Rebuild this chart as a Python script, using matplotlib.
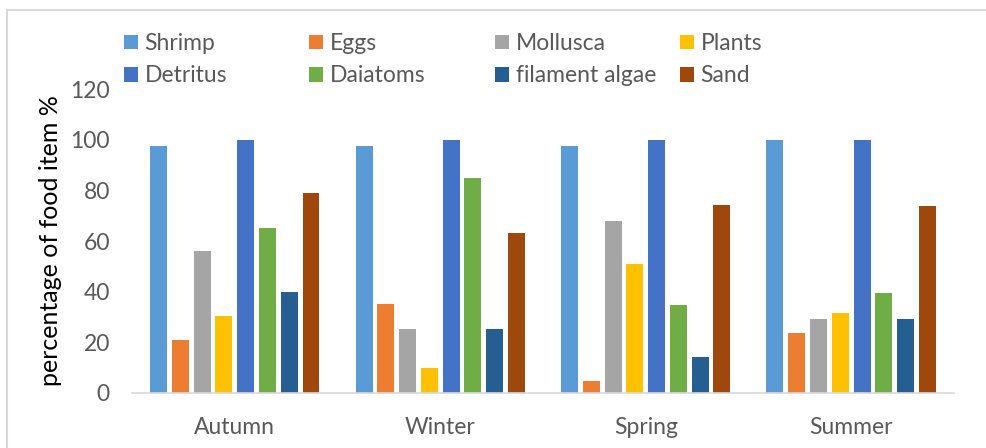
import matplotlib.pyplot as plt
import numpy as np
from matplotlib.patches import Rectangle

plt.rcParams['font.family'] = ['Lato', 'DejaVu Sans']

seasons = ["Autumn", "Winter", "Spring", "Summer"]
items = ["Shrimp", "Eggs", "Mollusca", "Plants",
         "Detritus", "Daiatoms", "filament algae", "Sand"]

shrimp = [97.6, 97.6, 97.6, 100]
eggs = [21, 35.3, 4.9, 23.7]
mollusca = [55.9, 25.3, 67.8, 29.2]
plants = [30.3, 9.9, 50.9, 31.6]
detritus = [100, 100, 100, 100]
diatoms = [65.1, 84.9, 34.9, 39.5]
filament_algae = [39.9, 25.3, 14.1, 29.2]
sand = [79, 63.2, 74.2, 73.7]

values = [shrimp, eggs, mollusca, plants, detritus, diatoms, filament_algae, sand]
colors = ["#5B9BD5", "#ED7D31", "#A5A5A5", "#FFC000",
          "#4472C4", "#70AD47", "#255E91", "#9E480E"]

fig = plt.figure(figsize=(9.86, 4.48), dpi=100)
ax = fig.add_axes([0.1339, 0.1228, 0.8336, 0.6785])

# light border around the chart area
fig.patches.append(Rectangle((7 / 986, -0.05), 1.0, 1 - 10 / 448 + 0.05,
                             transform=fig.transFigure, fill=False,
                             edgecolor="#d9d9d9", linewidth=1.5))

x = np.arange(len(seasons))
pitch = 0.106
bars = []
for i, (name, vals, c) in enumerate(zip(items, values, colors)):
    b = ax.bar(x + (i - 3.5) * pitch, vals, width=pitch * 0.78, color=c,
               label=name, zorder=2)
    bars.append(b)

ax.set_xlim(-0.5, 3.5)
ax.set_ylim(0, 120)
ax.set_yticks(range(0, 121, 20))
ax.set_xticks(x)
ax.set_xticklabels(seasons)
ax.tick_params(axis='both', length=0, colors="#595959", labelsize=16.5)
ax.tick_params(axis='x', pad=17)
ax.tick_params(axis='y', pad=16)
for s in ["top", "right", "left"]:
    ax.spines[s].set_visible(False)
ax.spines["bottom"].set_color("#d9d9d9")
ax.spines["bottom"].set_linewidth(1.2)
ax.set_ylabel("percentage of food item %", fontsize=18, color="black", labelpad=6)

# legend: 4 equal-width columns, filled row by row
col_x = [108, 293, 479, 664]
for j in range(4):
    leg = fig.legend([bars[j], bars[j + 4]], [items[j], items[j + 4]],
                     loc="upper left", bbox_to_anchor=(col_x[j] / 986, 1 - 17 / 448),
                     frameon=False, fontsize=16.5, handlelength=0.6,
                     handleheight=0.6, handletextpad=0.3, labelspacing=0.5,
                     borderpad=0.2)
    for t in leg.get_texts():
        t.set_color("#595959")

fig.savefig("out.png", dpi=100)
